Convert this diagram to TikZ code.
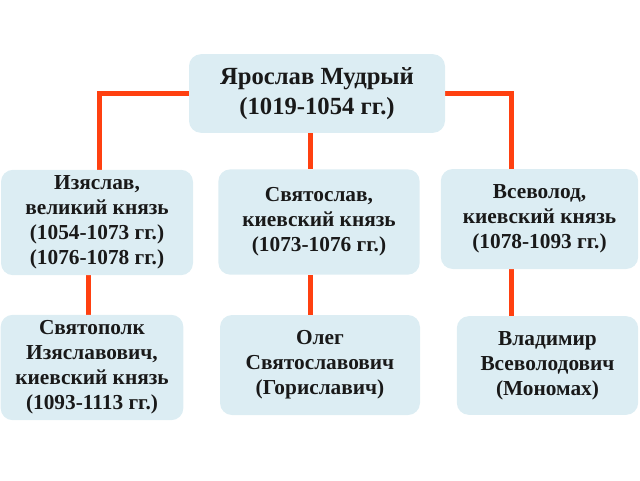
\documentclass[tikz,border=0pt]{standalone}
\usepackage{fontspec}
\setmainfont{Liberation Serif}
\usetikzlibrary{positioning,backgrounds}
\definecolor{boxblue}{RGB}{220,237,243}
\definecolor{linkred}{RGB}{255,64,16}
\begin{document}
\begin{tikzpicture}[x=0.75pt,y=-0.75pt,
  person/.style={fill=boxblue,rounded corners=9pt,align=center,inner sep=0pt,
    text=black!90,font=\bfseries\fontsize{16}{18.75}\selectfont},
  link/.style={linkred,line width=3.75pt}]
\useasboundingbox (0,0) rectangle (640,480);
\path node[person,minimum width=192pt,minimum height=59pt,
    font=\bfseries\fontsize{18.5}{22.5}\selectfont] (yaroslav) at (317,93.5)
    {Ярослав Мудрый\\(1019-1054 гг.)}
  node[person,minimum width=144pt,minimum height=79pt] (izyaslav) at (97,222.5)
    {Изяслав,\\великий князь\\(1054-1073 гг.)\\(1076-1078 гг.)}
  node[person,minimum width=151pt,minimum height=79pt] (svyatoslav) at (319,222)
    {Святослав,\\киевский князь\\(1073-1076 гг.)}
  node[person,minimum width=148pt,minimum height=75pt] (vsevolod) at (539.5,219)
    {Всеволод,\\киевский князь\\(1078-1093 гг.)}
  node[person,minimum width=137pt,minimum height=79pt] (svyatopolk) at (92,367.5)
    {Святополк\\Изяславович,\\киевский князь\\(1093-1113 гг.)}
  node[person,minimum width=150pt,minimum height=75pt] (oleg) at (320,365)
    {Олег\\Святославович\\(Гориславич)}
  node[person,minimum width=136pt,minimum height=74pt] (vladimir) at (547.5,365.5)
    {Владимир\\Всеволодович\\(Мономах)};
\coordinate (ltrunk) at (99,0);
\coordinate (lltrunk) at (88,0);
\coordinate (mtrunk) at (310,0);
\coordinate (rtrunk) at (511,0);
\begin{scope}[on background layer]
\draw[link] (yaroslav.west) -| (ltrunk |- izyaslav.north);
\draw[link] (yaroslav.east) -| (rtrunk |- vsevolod.north);
\draw[link] (yaroslav.south -| mtrunk) -- (svyatoslav.north -| mtrunk);
\draw[link] (izyaslav.south -| lltrunk) -- (svyatopolk.north -| lltrunk);
\draw[link] (svyatoslav.south -| mtrunk) -- (oleg.north -| mtrunk);
\draw[link] (vsevolod.south -| rtrunk) -- (vladimir.north -| rtrunk);
\end{scope}
\end{tikzpicture}
\end{document}
